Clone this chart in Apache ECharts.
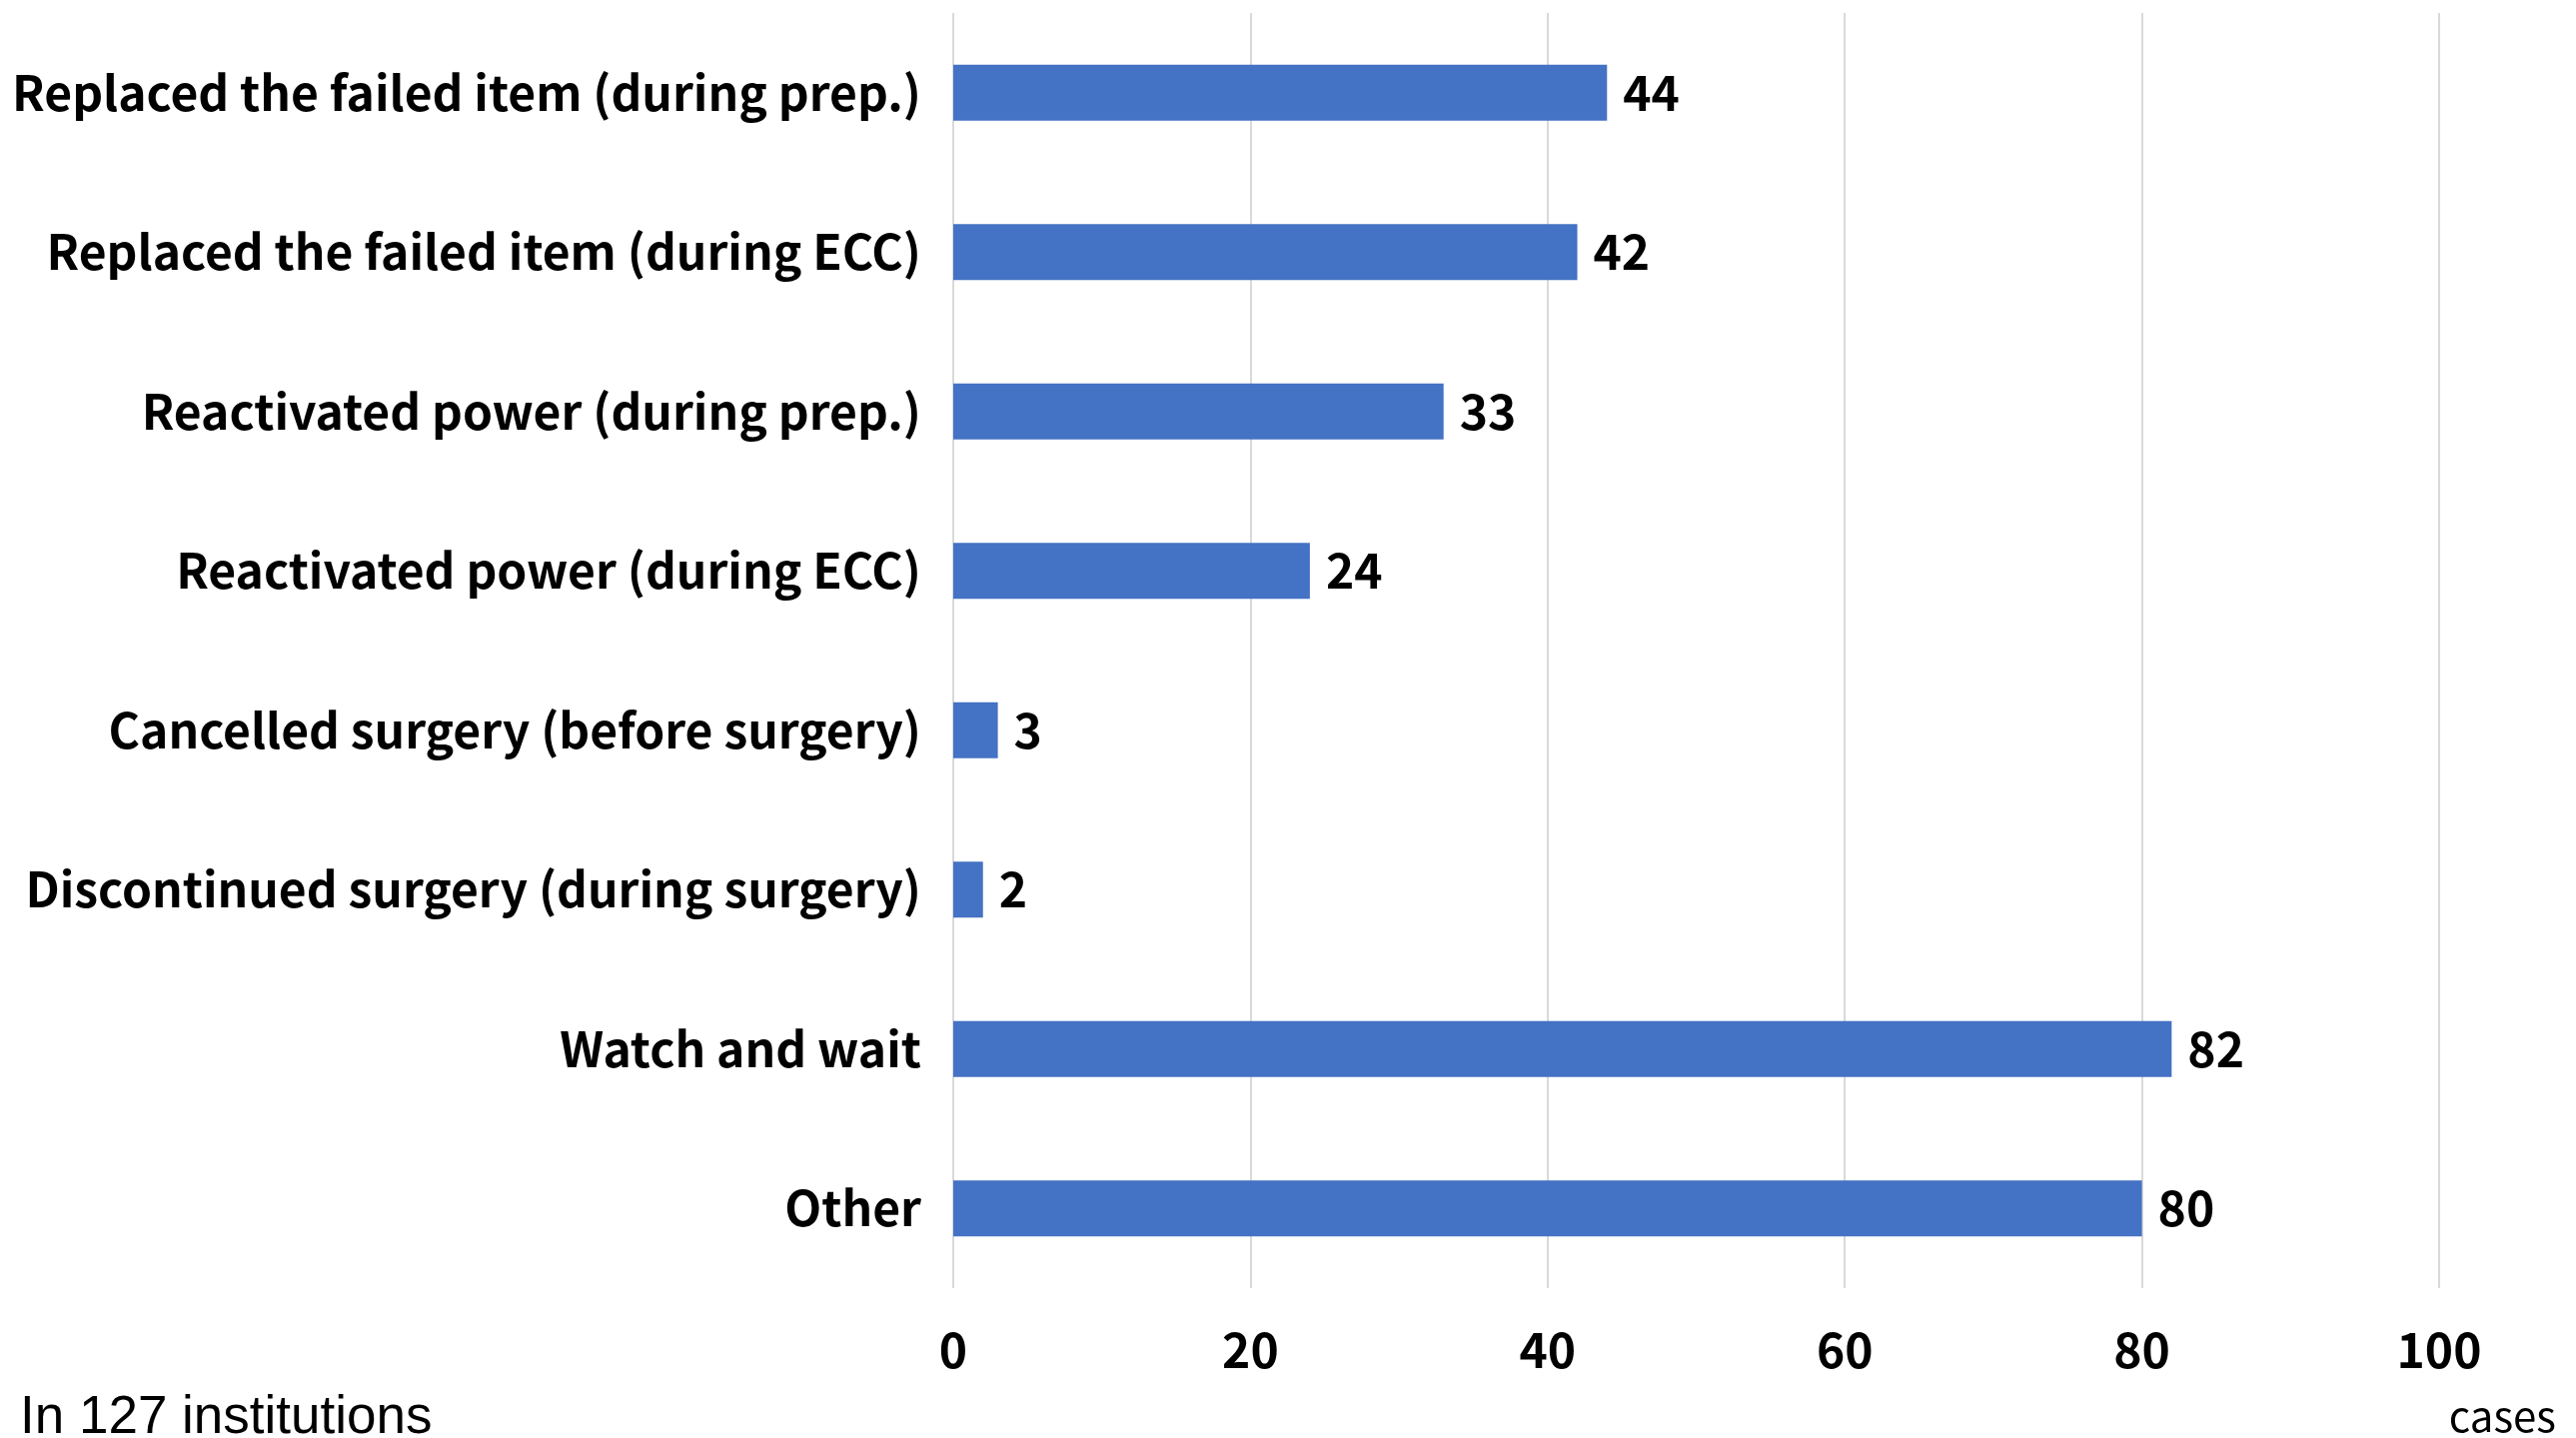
<!DOCTYPE html>
<html>
<head>
<meta charset="utf-8">
<script src="https://cdn.jsdelivr.net/npm/echarts@6/dist/echarts.min.js"></script>
<style>
  html, body { margin: 0; padding: 0; background: #fff; }
  #main { width: 2578px; height: 1439px; }
</style>
</head>
<body>
<div id="main"></div>
<script>
var categories = [
  'Replaced the failed item (during prep.)',
  'Replaced the failed item (during ECC)',
  'Reactivated power (during prep.)',
  'Reactivated power (during ECC)',
  'Cancelled surgery (before surgery)',
  'Discontinued surgery (during surgery)',
  'Watch and wait',
  'Other'
];
var cases = [44, 42, 33, 24, 3, 2, 82, 80];
var xTicks = [0, 20, 40, 60, 80, 100];

var font = '"Noto Sans CJK JP", "Noto Sans", sans-serif';
var chart = echarts.init(document.getElementById('main'));

// labels without brackets sit a little higher in the original
var yData = categories.map(function (c) {
  if (c.indexOf('(') < 0) {
    return { value: c, textStyle: { padding: [0, 0, 16, 0] } };
  }
  return { value: c, textStyle: { padding: [0, 0, 0, 0] } };
});

var option = {
  backgroundColor: '#fff',
  animation: false,
  grid: {
    left: 954, right: 137, top: 13, bottom: 150,
    containLabel: false,
    outerBoundsMode: 'none'
  },
  xAxis: {
    type: 'value',
    min: xTicks[0],
    max: xTicks[xTicks.length - 1],
    interval: 20,
    axisLine: { show: false },
    axisTick: { show: false },
    splitLine: { show: true, lineStyle: { color: '#d9d9d9', width: 2 } },
    axisLabel: {
      margin: 38,
      color: '#000',
      fontFamily: font,
      fontWeight: 'bold',
      fontSize: 48
    }
  },
  yAxis: {
    type: 'category',
    inverse: true,
    data: yData,
    axisLine: { show: false },
    axisTick: { show: false },
    axisLabel: {
      margin: 32,
      color: '#000',
      fontFamily: font,
      fontWeight: 'bold',
      fontSize: 48
    }
  },
  series: [{
    type: 'bar',
    data: cases,
    barWidth: 56,
    itemStyle: { color: '#4472C4' },
    label: {
      show: true,
      position: 'right',
      distance: 16,
      color: '#000',
      fontFamily: font,
      fontWeight: 'bold',
      fontSize: 48
    }
  }],
  graphic: [
    {
      type: 'text',
      left: 20,
      top: 1393,
      style: {
        text: 'In 127 institutions',
        fill: '#000',
        font: '53px "Liberation Sans", Arial, sans-serif'
      }
    },
    {
      type: 'text',
      right: 20,
      top: 1396,
      style: {
        text: 'cases',
        fill: '#000',
        font: '42px "Noto Sans CJK JP", "Noto Sans", sans-serif'
      }
    }
  ]
};
chart.setOption(option);
</script>
</body>
</html>
